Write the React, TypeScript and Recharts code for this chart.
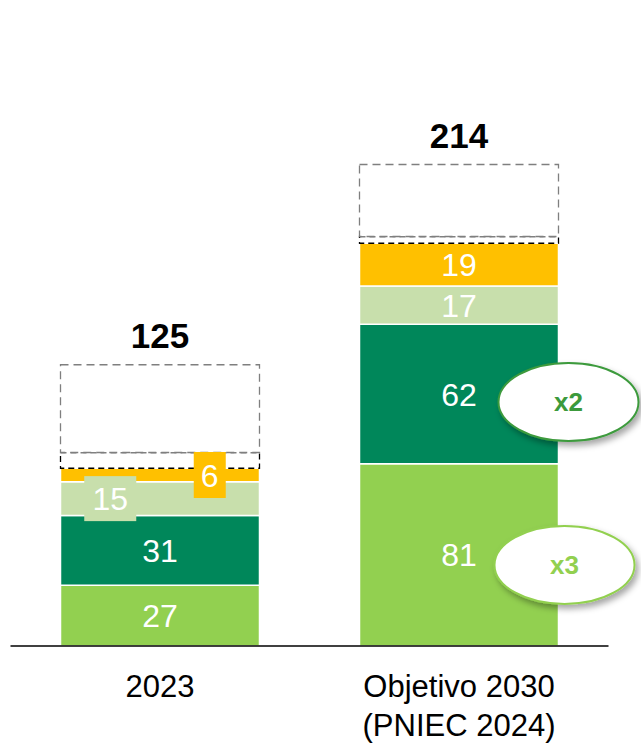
import { Bar, BarChart, LabelList, XAxis, YAxis } from 'recharts'

const categorias = ['2023', 'Objetivo 2030\n(PNIEC 2024)']
const solar = [27, 81]
const eolica = [31, 62]
const otras = [15, 17]
const almacenamiento = [6, 19]
const pendienteA = [7, 3]
const pendienteB = [39, 32]
const totales = [125, 214]

const FONT = '"Liberation Sans", Arial, sans-serif'

const data = categorias.map((name, i) => ({
  name,
  solar: solar[i],
  eolica: eolica[i],
  otras: otras[i],
  almacenamiento: almacenamiento[i],
  pendienteA: pendienteA[i],
  pendienteB: pendienteB[i],
}))

// plain white value centred in its segment; the first (2023) one is drawn later as a boxed label
function makeLabel(values: number[], skipFirst: boolean) {
  return (props: any) => {
    const { x, y, width, height, index } = props
    if (skipFirst && index === 0) return null
    return (
      <text
        x={x + width / 2}
        y={y + height / 2 + 11.5}
        textAnchor="middle"
        fill="#fff"
        fontSize={32}
        fontFamily={FONT}
      >
        {values[index]}
      </text>
    )
  }
}

function Multiplicador({ cx, cy, text, color, stroke }: any) {
  return (
    <g>
      <ellipse cx={cx} cy={cy} rx={70} ry={39} fill="#fff" stroke={stroke} strokeWidth={2} filter="url(#sombra)" />
      <text x={cx} y={cy + 9} textAnchor="middle" fill={color} fontSize={26} fontWeight="bold" fontFamily={FONT}>
        {text}
      </text>
    </g>
  )
}

const solarLabel = (props: any) => {
  const { x, y, width, height, index } = props
  const el = (
    <text x={x + width / 2} y={y + height / 2 + 11.5} textAnchor="middle" fill="#fff" fontSize={32} fontFamily={FONT}>
      {solar[index]}
    </text>
  )
  if (index !== 1) return el
  return (
    <g>
      {el}
      <Multiplicador
        cx={x + width + 6}
        cy={y + height / 2 + 10}
        text={`x${Math.round(solar[1] / solar[0])}`}
        color="#92d050"
        stroke="#92d050"
      />
    </g>
  )
}

const eolicaLabel = (props: any) => {
  const { x, y, width, height, index } = props
  const el = (
    <text x={x + width / 2} y={y + height / 2 + 11.5} textAnchor="middle" fill="#fff" fontSize={32} fontFamily={FONT}>
      {eolica[index]}
    </text>
  )
  if (index !== 1) return el
  return (
    <g>
      {el}
      <Multiplicador
        cx={x + width + 10}
        cy={y + height / 2 + 8}
        text={`x${Math.round(eolica[1] / eolica[0])}`}
        color="#3c9a3c"
        stroke="#3c9a3c"
      />
    </g>
  )
}

// totals on top, plus the boxed labels of the thin 2023 segments (drawn last so they sit above)
const topLabel = (props: any) => {
  const { x, y, width, height, index } = props
  const total = (
    <text x={x + width / 2} y={y - 17} textAnchor="middle" fill="#000" fontSize={35} fontWeight="bold" fontFamily={FONT}>
      {totales[index]}
    </text>
  )
  if (index !== 0) return total
  const ppu = height / pendienteB[0]
  const naranjaTop = y + height + pendienteA[0] * ppu
  const naranjaMid = naranjaTop + (almacenamiento[0] * ppu) / 2
  const otrasMid = naranjaTop + almacenamiento[0] * ppu + (otras[0] * ppu) / 2
  const cxN = x + width * 0.75
  const cxO = x + width * 0.25
  return (
    <g>
      {total}
      <rect x={cxN - 16} y={naranjaMid - 23} width={32} height={46} fill="#ffc000" />
      <text x={cxN} y={naranjaMid + 11.5} textAnchor="middle" fill="#fff" fontSize={32} fontFamily={FONT}>
        {almacenamiento[0]}
      </text>
      <rect x={cxO - 26} y={otrasMid - 22.5} width={52} height={45} fill="#c8dfac" />
      <text x={cxO} y={otrasMid + 11.5} textAnchor="middle" fill="#fff" fontSize={32} fontFamily={FONT}>
        {otras[0]}
      </text>
    </g>
  )
}

const CategoryTick = (props: any) => {
  const { x, y, payload } = props
  const lines = String(payload.value).split('\n')
  return (
    <g>
      {lines.map((l, i) => (
        <text key={i} x={x} y={y + 43 + i * 39} textAnchor="middle" fill="#000" fontSize={31} fontFamily={FONT}>
          {l}
        </text>
      ))}
    </g>
  )
}

export default function App() {
  return (
    <div style={{ position: 'absolute', left: 0, top: 0, width: 641, height: 743, background: '#fff' }}>
      <BarChart
        width={641}
        height={743}
        data={data}
        margin={{ top: 106, right: 32.5, left: 10.5, bottom: 0 }}
        barSize={199}
      >
        <defs>
          <filter id="sombra" x="-20%" y="-20%" width="150%" height="160%">
            <feDropShadow dx={3} dy={4} stdDeviation={3} floodColor="#000" floodOpacity={0.35} />
          </filter>
        </defs>
        <XAxis
          dataKey="name"
          height={97}
          axisLine={{ stroke: '#000', strokeWidth: 1.5 }}
          tickLine={false}
          tick={<CategoryTick />}
          interval={0}
        />
        <YAxis hide domain={[0, 240]} />
        <Bar dataKey="solar" stackId="a" fill="#92d050" stroke="#fff" strokeWidth={1.5} isAnimationActive={false}>
          <LabelList content={solarLabel} />
        </Bar>
        <Bar dataKey="eolica" stackId="a" fill="#00875a" stroke="#fff" strokeWidth={1.5} isAnimationActive={false}>
          <LabelList content={eolicaLabel} />
        </Bar>
        <Bar dataKey="otras" stackId="a" fill="#c8dfac" stroke="#fff" strokeWidth={1.5} isAnimationActive={false}>
          <LabelList content={makeLabel(otras, true)} />
        </Bar>
        <Bar dataKey="almacenamiento" stackId="a" fill="#ffc000" stroke="#fff" strokeWidth={1.5} isAnimationActive={false}>
          <LabelList content={makeLabel(almacenamiento, true)} />
        </Bar>
        <Bar
          dataKey="pendienteA"
          stackId="a"
          fill="#fff"
          stroke="#000"
          strokeWidth={1.3}
          strokeDasharray="6 4"
          isAnimationActive={false}
        />
        <Bar
          dataKey="pendienteB"
          stackId="a"
          fill="#fff"
          stroke="#7f7f7f"
          strokeWidth={1.3}
          strokeDasharray="8 5"
          isAnimationActive={false}
        >
          <LabelList content={topLabel} />
        </Bar>
      </BarChart>
    </div>
  )
}
